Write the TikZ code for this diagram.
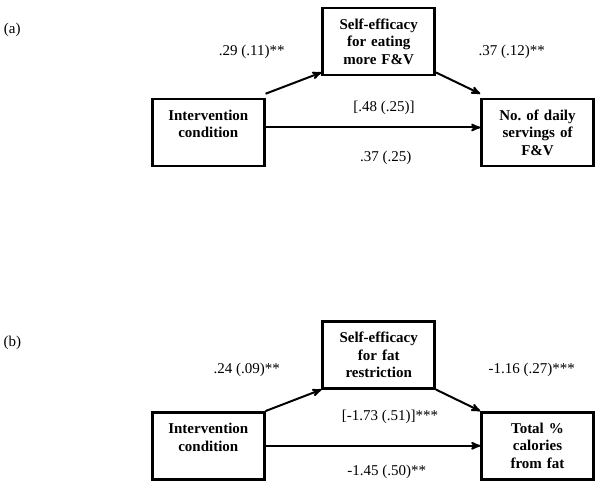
\documentclass[tikz,border=0pt]{standalone}
\usepackage{fontspec}
\setmainfont{Liberation Serif}
\usetikzlibrary{arrows}
\tikzset{
	textnode/.style = {
		align=center,
		inner sep=0pt,
		text centered,
		font=\fontsize{15}{17.5}\selectfont
	},
	node_var/.style = {
		textnode,
		rectangle,
		font=\fontsize{15}{17.5}\selectfont\bfseries,
		draw=black,
		line width=2.5pt,
		text width=108pt,
		minimum width=112pt,
		minimum height=67pt
	},
	node_coef/.style = {
		textnode
	},
	node_tag/.style = {
		textnode
	},
}
\begin{document}
\begin{tikzpicture}[->,>=stealth',line width=2pt,x=1pt,y=-1pt]
\useasboundingbox (0,0) rectangle (600,489);
% (a) fruit and vegetables
\node [node_tag] (tag_a) at (12.3,30) {(a)};
\node [node_var] (se_a) at (378.7,41.7) {Self-efficacy\\for eating\\more F\&V};
\node [node_var] (iv_a) at (208.3,132.5) {Intervention\\condition\\\mbox{}};
\node [node_var] (out_a) at (537.5,132.5) {No.\ of daily\\servings of\\F\&V};
\node [node_coef] (path_a1) at (251.7,52) {.29 (.11)**};
\node [node_coef] (path_a2) at (511.7,52) {.37 (.12)**};
\node [node_coef] (path_a3) at (384,108.3) {[.48 (.25)]};
\node [node_coef] (path_a4) at (385.7,158) {.37 (.25)};
\draw ([yshift=4pt]iv_a.north east) -- ([yshift=4pt]se_a.south west);
\draw ([yshift=4pt]se_a.south east) -- ([yshift=4pt]out_a.north west);
\draw ([yshift=5pt]iv_a.east) -- ([yshift=5pt]iv_a.east -| out_a.west);
% (b) fat
\node [node_tag] (tag_b) at (12.3,342.7) {(b)};
\node [node_var] (se_b) at (378.7,354.8) {Self-efficacy\\for fat\\restriction};
\node [node_var] (iv_b) at (208.3,445.8) {Intervention\\condition\\\mbox{}};
\node [node_var] (out_b) at (537.5,445.8) {Total \%\\calories\\from fat};
\node [node_coef] (path_b1) at (246.7,370) {.24 (.09)**};
\node [node_coef] (path_b2) at (531.7,370) {-1.16 (.27)***};
\node [node_coef] (path_b3) at (390,417) {[-1.73 (.51)]***};
\node [node_coef] (path_b4) at (386.7,471.7) {-1.45 (.50)**};
\draw (iv_b.north east) -- (se_b.south west);
\draw (se_b.south east) -- (out_b.north west);
\draw (iv_b.east) -- (out_b.west);
\end{tikzpicture}
\end{document}
